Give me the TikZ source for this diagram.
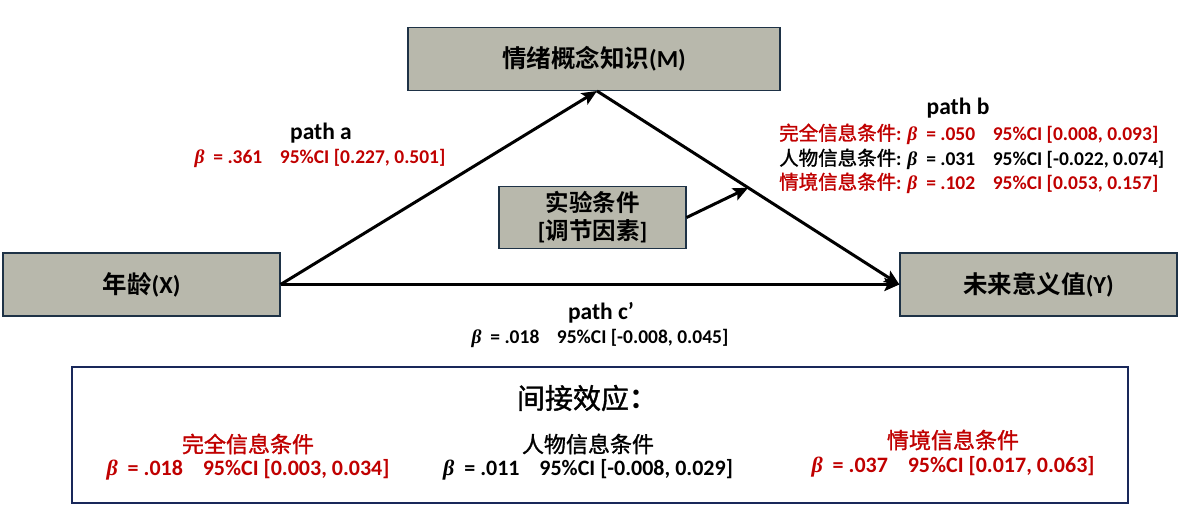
\documentclass[tikz,border=0pt]{standalone}
\usepackage{fontspec}
\setmainfont{Carlito}
\newfontfamily\cjk{Noto Sans CJK SC}[BoldFont={Noto Sans CJK SC Bold}]
\newfontfamily\cjkmed{Noto Sans CJK SC}[FakeBold=1.3]
\newfontfamily\betafamily{Liberation Serif}
\usetikzlibrary{arrows.meta,calc}
\definecolor{boxfill}{RGB}{184,184,172}
\definecolor{boxline}{RGB}{30,50,70}
\definecolor{myred}{RGB}{192,0,0}
\definecolor{navyline}{RGB}{25,40,90}
\newcommand{\betasym}{{\betafamily\bfseries\itshape β}}
\newcommand{\zh}[1]{{\cjk\bfseries #1}}
\newcommand{\zhr}[1]{{\cjkmed\mdseries #1}}
\newcommand{\stat}[3]{\betasym\ \ = #1\hspace{0.9em}95\%CI [#2, #3]}
\tikzset{
  varbox/.style={draw=boxline, line width=1.2pt, fill=boxfill, font=\fontsize{24.5}{28}\selectfont\bfseries, inner sep=0pt},
  lbl/.style={font=\fontsize{19.5}{23}\selectfont\bfseries, inner sep=0pt},
  lblbig/.style={font=\fontsize{22}{26}\selectfont\bfseries, inner sep=0pt},
  pathlbl/.style={font=\fontsize{23.5}{27}\selectfont\bfseries, inner sep=0pt},
  arr/.style={line width=3pt, -{Stealth[length=15pt,width=13pt,inset=3pt]}}
}
\begin{document}
\begin{tikzpicture}[x=1pt,y=-1pt]
\useasboundingbox (0,0) rectangle (1186,526);
% boxes
\node[varbox, minimum width=372pt, minimum height=63pt] (M) at (594,59) {\zh{情绪概念知识}(M)};
\node[varbox, minimum width=277pt, minimum height=63pt] (X) at (141.5,284.5) {\zh{年龄}(X)};
\node[varbox, minimum width=277pt, minimum height=63pt] (Y) at (1038.5,284.5) {\zh{未来意义值}(Y)};
\node[varbox, minimum width=187pt, minimum height=62pt, align=center, font=\fontsize{23.5}{28}\selectfont\bfseries] (Mod) at (592.5,217.5) {\zh{实验条件}\\{[}\zh{调节因素}{]}};
% arrows
\coordinate (mtip) at (597,91);
\coordinate (bmid) at ($(mtip)!0.5!(Y.west)$);
\draw[arr] (X.east) -- (mtip);
\draw[arr] (mtip) -- (Y.west);
\draw[arr] (X.east) -- (Y.west);
\draw[arr] (Mod.east) -- (bmid);
% path a
\node[pathlbl] (pa) at (321,133) {path a};
\node[lbl, text=myred] (pab) at (320,158) {\stat{.361}{0.227}{0.501}};
% path b
\node[pathlbl] (pb) at (958,108) {path b};
\node[lbl, text=myred, anchor=west] (pb1) at (779,134) {\zhr{完全信息条件}: \stat{.050}{0.008}{0.093}};
\node[lbl, anchor=west] (pb2) at (779,159) {\zhr{人物信息条件}: \stat{.031}{-0.022}{0.074}};
\node[lbl, text=myred, anchor=west] (pb3) at (779,183) {\zhr{情境信息条件}: \stat{.102}{0.053}{0.157}};
% path c'
\node[pathlbl] (pc) at (601,313) {path c’};
\node[lbl] (pcb) at (600,338) {\stat{.018}{-0.008}{0.045}};
% indirect box
\node[draw=navyline, line width=2.5pt, minimum width=1056pt, minimum height=136pt, inner sep=0pt] (ind) at (600,435) {};
\node[font=\fontsize{28}{32}\selectfont, inner sep=0pt] (indt) at (587,398) {\zhr{间接效应}\zh{：}};
\node[lblbig, text=myred] (i1a) at (248,444) {\zhr{完全信息条件}};
\node[lblbig, text=myred] (i1b) at (248,470) {\stat{.018}{0.003}{0.034}};
\node[lblbig] (i2a) at (588,444) {\zhr{人物信息条件}};
\node[lblbig] (i2b) at (588,470) {\stat{.011}{-0.008}{0.029}};
\node[lblbig, text=myred] (i3a) at (953,440) {\zhr{情境信息条件}};
\node[lblbig, text=myred] (i3b) at (953,467) {\stat{.037}{0.017}{0.063}};
\end{tikzpicture}
\end{document}
